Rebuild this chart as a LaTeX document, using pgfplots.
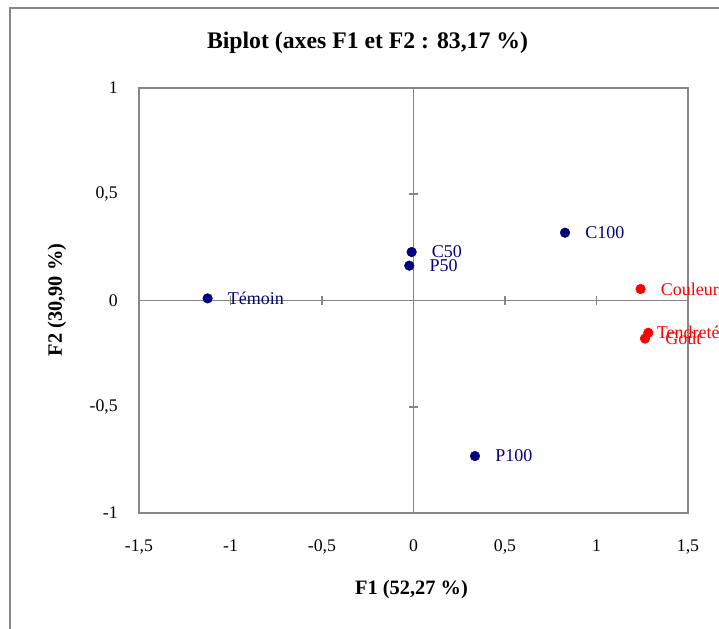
\documentclass[border=0pt]{standalone}
\usepackage{fontspec}
\setmainfont{Liberation Serif}
\usepackage{pgfplots}
\pgfplotsset{compat=1.18}
\definecolor{navyb}{RGB}{0,0,128}
\definecolor{axgray}{RGB}{134,134,134}
\begin{document}
\begin{tikzpicture}
\useasboundingbox (-104.25pt,-87pt) rectangle (435pt,384.75pt);
\clip (-104.25pt,-87pt) rectangle (435pt,384.75pt);
\draw[axgray, line width=1.5pt] (-96.75pt,378.75pt) rectangle (443.25pt,-95.25pt);
\begin{axis}[
 scale only axis, width=411.75pt, height=318.75pt,
 xmin=-1.5, xmax=1.5, ymin=-1, ymax=1,
 xtick={-1.5,-1,-0.5,0,0.5,1,1.5}, ytick={-1,-0.5,0,0.5,1},
 major tick length=0pt,
 axis line style={axgray, line width=1.3pt},
 clip=false,
 /pgf/number format/.cd, use comma, assume math mode=true,
 /pgfplots/.cd,
 tick label style={font=\fontsize{13.3}{15}\selectfont},
 xticklabel style={anchor=base, yshift=-29pt},
 yticklabel style={anchor=east, xshift=-15.75pt, inner sep=0pt},
]
\draw[axgray, line width=1.3pt] (axis cs:-1.5,0) -- (axis cs:1.5,0);
\draw[axgray, line width=1.3pt] (axis cs:0,-1) -- (axis cs:0,1);
\draw[axgray, line width=1.3pt] (axis cs:-1,-0.021) -- (axis cs:-1,0.021);
\draw[axgray, line width=1.3pt] (axis cs:-0.5,-0.021) -- (axis cs:-0.5,0.021);
\draw[axgray, line width=1.3pt] (axis cs:0.5,-0.021) -- (axis cs:0.5,0.021);
\draw[axgray, line width=1.3pt] (axis cs:1,-0.021) -- (axis cs:1,0.021);
\draw[axgray, line width=1.3pt] (axis cs:-0.025,0.5) -- (axis cs:0.025,0.5);
\draw[axgray, line width=1.3pt] (axis cs:-0.025,-0.5) -- (axis cs:0.025,-0.5);
\addplot[only marks, mark=*, mark size=3.6pt, color=navyb,
  nodes near coords, point meta=explicit symbolic,
  nodes near coords style={anchor=west, xshift=15pt, inner sep=0pt, text=navyb, font=\fontsize{13.5}{15}\selectfont}]
  table[meta=label] {
x y label
-1.125 0.010 Témoin
-0.010 0.228 C50
-0.023 0.164 P50
0.828 0.319 C100
0.336 -0.732 P100
};
\addplot[only marks, mark=*, mark size=3.6pt, color=red,
  nodes near coords, point meta=explicit symbolic,
  nodes near coords style={anchor=west, xshift=15pt, inner sep=0pt, text=red, font=\fontsize{13.5}{15}\selectfont}]
  table[meta=label] {
x y label
1.241 0.054 Couleur
1.265 -0.179 Goût
};
\addplot[only marks, mark=*, mark size=3.6pt, color=red,
  nodes near coords, point meta=explicit symbolic,
  nodes near coords style={anchor=west, xshift=6.3pt, inner sep=0pt, text=red, font=\fontsize{13.5}{15}\selectfont}]
  table[meta=label] {
x y label
1.283 -0.152 Tendreté
};
\end{axis}
\node[font=\fontsize{17.8}{20}\selectfont\bfseries] at (171.4pt,352.5pt) {Biplot (axes F1 et F2 : 83,17 \%)};
\node[font=\fontsize{15.3}{18}\selectfont\bfseries] at (204.4pt,-57.75pt) {F1 (52,27 \%)};
\node[rotate=90, font=\fontsize{15.3}{18}\selectfont\bfseries] at (-61.5pt,159.75pt) {F2 (30,90 \%)};
\end{tikzpicture}
\end{document}
